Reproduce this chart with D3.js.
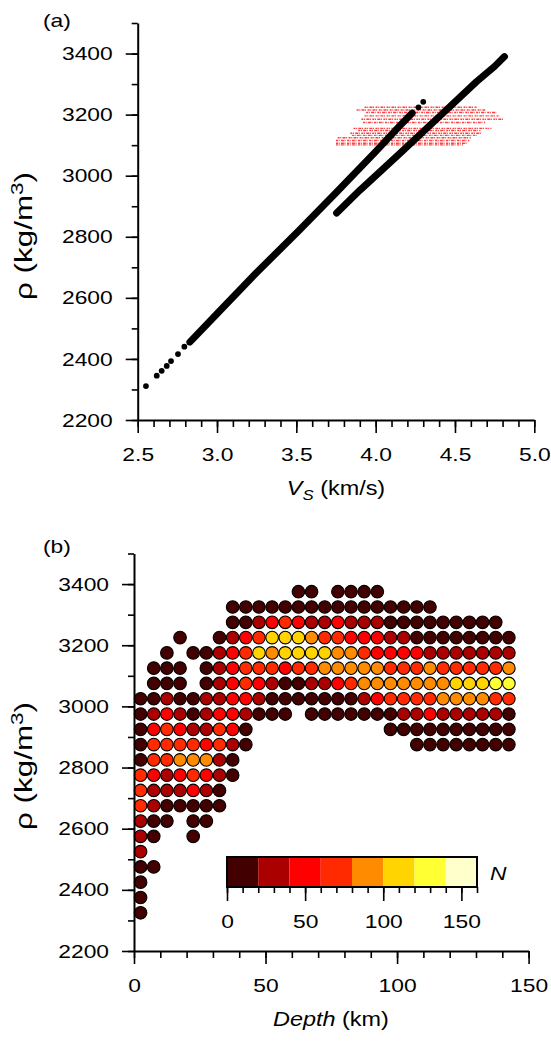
<!DOCTYPE html>
<html><head><meta charset="utf-8">
<script src="https://cdn.jsdelivr.net/npm/d3@7/dist/d3.min.js"></script>
<style>
body{margin:0;background:#fff}
text{font-family:"Liberation Sans",Arial,Helvetica,sans-serif;fill:#000}
</style>
</head><body>
<svg id="chart" width="551" height="1046"></svg>
<script>
// ---------------- DATA ----------------
// Panel (a): Vs–rho relation
const lowVs  = [2.552, 2.620, 2.651, 2.683, 2.710, 2.754, 2.794, 2.826];
const lowRho = [2311, 2345, 2361, 2377, 2393, 2416, 2440, 2454];
const mainVs  = [2.83, 3.00, 3.25, 3.52, 3.75, 4.00, 4.15, 4.23];
const mainRho = [2456, 2548, 2683, 2822, 2944, 3079, 3162, 3205];
const tipVs  = [4.27, 4.30];
const tipRho = [3224, 3242];
const branchVs  = [3.754, 3.90, 4.153, 4.40, 4.636, 4.75, 4.812];
const branchRho = [2878, 2952, 3073, 3193, 3308, 3358, 3390];
const redRho   = [3224, 3215, 3207, 3196, 3185, 3174, 3155, 3148, 3139, 3132, 3124, 3115, 3106, 3101];
const redVsMin = [3.93, 3.88, 3.94, 3.93, 3.91, 3.92, 3.86, 3.89, 3.84, 3.85, 3.76, 3.75, 3.75, 3.75];
const redVsMax = [4.64, 4.69, 4.76, 4.78, 4.81, 4.69, 4.73, 4.66, 4.67, 4.64, 4.60, 4.59, 4.58, 4.55];
const vsTicks = [2.5, 3.0, 3.5, 4.0, 4.5, 5.0];
const rhoTicks = [2200, 2400, 2600, 2800, 3000, 3200, 3400];

// Panel (b): counts N per depth / density cell
const depthCols = [2.5,7.5,12.5,17.5,22.5,27.5,32.5,37.5,42.5,47.5,52.5,57.5,62.5,67.5,72.5,77.5,82.5,87.5,92.5,97.5,102.5,107.5,112.5,117.5,122.5,127.5,132.5,137.5,142.5];
const rhoRows = [3375,3325,3275,3225,3175,3125,3075,3025,2975,2925,2875,2825,2775,2725,2675,2625,2575,2525,2475,2425,2375,2325];
const countRows = [
 [0,0,0,0,0,0,0,0,0,0,0,0,10,10,0,10,10,10,10],
 [0,0,0,0,0,0,0,10,10,10,10,10,10,10,10,10,10,10,10,10,10,10,10],
 [0,0,0,0,0,0,0,10,10,30,50,70,50,30,30,50,30,30,30,10,10,10,10,10,10,10,10,10],
 [0,0,0,10,0,0,10,30,50,70,110,110,110,90,70,70,50,50,50,30,30,10,10,10,10,10,10,10,10],
 [0,0,10,0,10,10,30,50,70,110,90,110,110,110,110,90,90,70,50,50,50,50,30,30,30,30,30,30,30],
 [0,10,10,10,0,10,30,50,70,70,70,50,70,70,90,90,90,90,90,70,70,70,90,70,70,70,70,70,90],
 [0,10,10,10,0,10,30,50,70,50,30,10,10,30,30,50,70,90,90,90,90,90,90,90,110,110,110,130,130],
 [10,10,30,10,10,30,30,50,50,30,10,10,10,10,10,10,10,30,50,70,70,70,70,90,90,90,90,70,70],
 [10,30,50,30,10,30,50,50,30,10,10,10,0,10,10,10,10,10,10,10,30,30,50,30,30,30,30,30,10],
 [10,50,70,50,30,30,70,50,10,0,0,0,0,0,0,0,0,0,0,10,10,10,10,10,10,10,10,10,10],
 [10,70,70,70,70,50,70,30,10,0,0,0,0,0,0,0,0,0,0,0,0,10,10,10,10,10,10,10,10],
 [10,70,70,90,90,90,30,10],
 [70,50,30,50,70,50,30,10],
 [70,30,30,30,50,30,10],
 [70,30,10,10,10,10,10],
 [30,10,10,0,10,10],
 [30,10,0,0,10],
 [30],
 [10,10],
 [10],
 [10],
 [10]
];
const depthTicks = [0, 50, 100, 150];
const nBinEdges = [0, 20, 40, 60, 80, 100, 120, 140, 160];
const nColors = ["#420000","#aa0000","#ff0000","#ff2a00","#ff8c00","#ffd400","#ffff33","#ffffcc"];
const nTicks = [0, 50, 100, 150];

// ---------------- DRAW ----------------
const svg = d3.select("#chart");
const FS = 19, STRETCH = 1.2;

function stretch(sel){
  sel.each(function(){
    const L = this.getComputedTextLength();
    if (L > 0){ this.setAttribute("textLength", (L*STRETCH).toFixed(2)); this.setAttribute("lengthAdjust","spacingAndGlyphs"); }
  });
}
function range(a,b,s){ const r=[]; for(let v=a; v<=b+1e-9; v+=s) r.push(+v.toFixed(6)); return r; }

function styleAxis(g){
  g.selectAll("path.domain").attr("stroke","#000").attr("stroke-width",2);
  g.selectAll(".tick line").attr("stroke","#000").attr("stroke-width",1.6);
  g.selectAll(".tick text").attr("font-size",FS).attr("font-family","Liberation Sans, Arial, sans-serif").attr("fill","#000");
}

function frame(xs, ys, xTicks, xMinorStep, xFmt){
  const [x0,x1]=xs.range(), [y0,y1]=ys.range();
  const xMinor = range(xs.domain()[0], xs.domain()[1], xMinorStep);
  const yMinor = range(2200, 3500, 100);
  const gxm = svg.append("g").attr("transform",`translate(0,${y0})`)
    .call(d3.axisBottom(xs).tickValues(xMinor).tickSize(7).tickSizeOuter(0).tickFormat(""));
  gxm.select("path.domain").remove(); styleAxis(gxm);
  const gym = svg.append("g").attr("transform",`translate(${x0},0)`)
    .call(d3.axisLeft(ys).tickValues(yMinor).tickSize(6).tickSizeOuter(0).tickFormat(""));
  gym.select("path.domain").remove(); styleAxis(gym);
  const gx = svg.append("g").attr("transform",`translate(0,${y0})`)
    .call(d3.axisBottom(xs).tickValues(xTicks).tickSize(13).tickSizeOuter(0).tickPadding(15).tickFormat(xFmt));
  styleAxis(gx); stretch(gx.selectAll(".tick text"));
  const gy = svg.append("g").attr("transform",`translate(${x0},0)`)
    .call(d3.axisLeft(ys).tickValues(rhoTicks).tickSize(12).tickSizeOuter(0).tickPadding(13).tickFormat(d3.format("d")));
  styleAxis(gy); stretch(gy.selectAll(".tick text"));
}

function yTitle(x, y){
  const t = svg.append("text").attr("transform",`translate(${x},${y}) rotate(-90) scale(1,1.12)`)
    .attr("text-anchor","middle").attr("font-size",21);
  t.append("tspan").text("ρ (kg/m");
  t.append("tspan").attr("font-size",15).attr("dy",-8).text("3");
  t.append("tspan").attr("dy",8).text(")");
  t.attr("textLength", 128).attr("lengthAdjust","spacingAndGlyphs");
}

// ---- Panel (a)
const xa = d3.scaleLinear().domain([2.5,5.0]).range([137.7,534.3]);
const ya = d3.scaleLinear().domain([2200,3500]).range([420,23]);

const gRed = svg.append("g");
redRho.forEach((r,i)=>{
  gRed.append("line").attr("x1",xa(redVsMin[i])).attr("x2",xa(redVsMax[i]))
    .attr("y1",ya(r)).attr("y2",ya(r)).attr("stroke","#ff0000").attr("stroke-width",1.4)
    .attr("stroke-dasharray","2 0.7 1 1.2 3 0.6 1 1.5").attr("opacity",0.75);
});
const lineA = d3.line().x(d=>xa(d[0])).y(d=>ya(d[1]));
svg.append("path").attr("d", lineA(d3.zip(mainVs, mainRho))).attr("fill","none")
  .attr("stroke","#000").attr("stroke-width",7).attr("stroke-linecap","round").attr("stroke-linejoin","round");
svg.append("path").attr("d", lineA(d3.zip(branchVs, branchRho))).attr("fill","none")
  .attr("stroke","#000").attr("stroke-width",7).attr("stroke-linecap","round").attr("stroke-linejoin","round");
svg.append("g").selectAll("circle").data(d3.zip(lowVs.concat(tipVs), lowRho.concat(tipRho))).join("circle")
  .attr("cx",d=>xa(d[0])).attr("cy",d=>ya(d[1])).attr("r",2.9).attr("fill","#000");

frame(xa, ya, vsTicks, 0.1, d3.format(".1f"));
yTitle(32, 236);
{
  const t = svg.append("text").attr("x",336).attr("y",495).attr("text-anchor","middle").attr("font-size",19.5);
  t.append("tspan").attr("font-style","italic").text("V");
  t.append("tspan").attr("font-style","italic").attr("font-size",14).attr("dy",5).text("S");
  t.append("tspan").attr("dy",-5).text(" (km/s)");
  stretch(t);
}
stretch(svg.append("text").attr("x",43).attr("y",27).attr("font-size",19).text("(a)"));

// ---- Panel (b)
const xb = d3.scaleLinear().domain([0,150]).range([134,528.6]);
const yb = d3.scaleLinear().domain([2200,3500]).range([951,553.5]);
const cScale = d3.scaleThreshold().domain(nBinEdges.slice(1,-1)).range(nColors);

const cells = [];
countRows.forEach((row,ri)=>row.forEach((n,ci)=>{ if(n>0) cells.push({d:depthCols[ci], r:rhoRows[ri], n}); }));
svg.append("g").selectAll("circle").data(cells).join("circle")
  .attr("cx",d=>xb(d.d)).attr("cy",d=>yb(d.r)).attr("r",6.3)
  .attr("fill",d=>cScale(d.n)).attr("stroke","#000").attr("stroke-width",1.1);

frame(xb, yb, depthTicks, 10, d3.format("d"));
yTitle(32, 766);
{
  const t = svg.append("text").attr("x",331).attr("y",1026).attr("text-anchor","middle").attr("font-size",19.5);
  t.append("tspan").attr("font-style","italic").text("Depth");
  t.append("tspan").text(" (km)");
  stretch(t);
}
stretch(svg.append("text").attr("x",43).attr("y",553).attr("font-size",19).text("(b)"));

// colour bar
const xc = d3.scaleLinear().domain([0,160]).range([227,477]);
const cbTop = 857, cbH = 30;
svg.append("g").selectAll("rect").data(nColors).join("rect")
  .attr("x",(d,i)=>xc(nBinEdges[i])).attr("width",(d,i)=>xc(nBinEdges[i+1])-xc(nBinEdges[i]))
  .attr("y",cbTop).attr("height",cbH).attr("fill",d=>d);
svg.append("rect").attr("x",xc(0)).attr("y",cbTop).attr("width",xc(160)-xc(0)).attr("height",cbH)
  .attr("fill","none").attr("stroke","#000").attr("stroke-width",2);
const gcm = svg.append("g").attr("transform",`translate(0,${cbTop+cbH})`)
  .call(d3.axisBottom(xc).tickValues(range(0,160,10)).tickSize(6).tickSizeOuter(0).tickFormat(""));
gcm.select("path.domain").remove(); styleAxis(gcm);
const gc = svg.append("g").attr("transform",`translate(0,${cbTop+cbH})`)
  .call(d3.axisBottom(xc).tickValues(nTicks).tickSize(14).tickSizeOuter(0).tickPadding(14).tickFormat(d3.format("d")));
gc.select("path.domain").remove(); styleAxis(gc); stretch(gc.selectAll(".tick text"));
stretch(svg.append("text").attr("x",490).attr("y",880).attr("font-size",19).attr("font-style","italic").text("N"));
</script>
</body></html>
